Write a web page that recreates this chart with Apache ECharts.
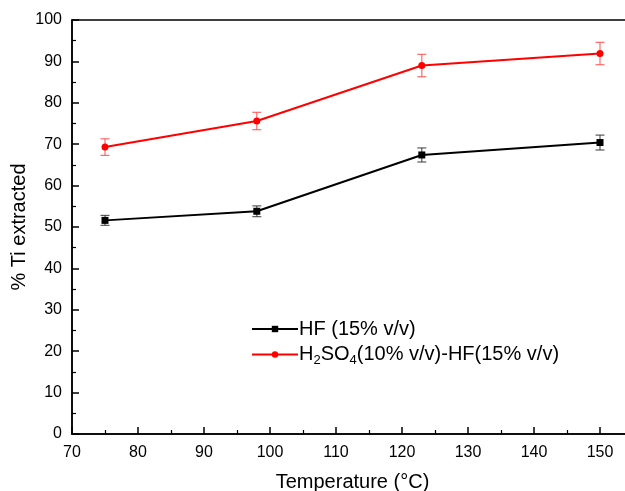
<!DOCTYPE html>
<html>
<head>
<meta charset="utf-8">
<script src="https://cdn.jsdelivr.net/npm/echarts@6/dist/echarts.min.js"></script>
<style>
html,body{margin:0;padding:0;background:#fff;}
#chart{width:625px;height:491px;}
</style>
</head>
<body>
<div id="chart"></div>
<script>
const temperatures = [75, 98, 123, 150];
const hfValues = [51.6, 53.8, 67.4, 70.4];
const hfErrors = [1.2, 1.3, 1.7, 1.8];
const mixValues = [69.3, 75.6, 89.0, 91.9];
const mixErrors = [2.0, 2.1, 2.7, 2.7];
const seriesNames = ['HF (15% v/v)', 'H2SO4(10% v/v)-HF(15% v/v)'];
const xTitle = 'Temperature (°C)';
const yTitle = '% Ti extracted';

const chart = echarts.init(document.getElementById('chart'), null, {renderer: 'canvas'});

function pairs(xs, ys) { return xs.map((x, i) => [x, ys[i]]); }
function errData(xs, ys, es) { return xs.map((x, i) => [x, ys[i] - es[i], ys[i] + es[i]]); }

function errorRender(color) {
  return function (params, api) {
    const x = api.value(0);
    const lo = api.coord([x, api.value(1)]);
    const hi = api.coord([x, api.value(2)]);
    const hw = 4.5;
    const style = {stroke: color, lineWidth: 1.2, fill: null};
    return {
      type: 'group',
      children: [
        {type: 'line', shape: {x1: lo[0], y1: lo[1], x2: hi[0], y2: hi[1]}, style: style},
        {type: 'line', shape: {x1: lo[0] - hw, y1: lo[1], x2: lo[0] + hw, y2: lo[1]}, style: style},
        {type: 'line', shape: {x1: hi[0] - hw, y1: hi[1], x2: hi[0] + hw, y2: hi[1]}, style: style}
      ]
    };
  };
}

const font = 'Liberation Sans, Arial, sans-serif';

chart.setOption({
  backgroundColor: '#fff',
  animation: false,
  grid: {left: 72, right: -8, top: 20, bottom: 57, containLabel: false, outerBoundsMode: 'none',
         show: true, borderColor: '#000', borderWidth: 1.5, backgroundColor: 'transparent'},
  legend: {
    left: 251, top: 319, orient: 'vertical',
    itemWidth: 46, itemHeight: 8, itemGap: 3, padding: 0,
    data: seriesNames,
    formatter: function (name) {
      if (name === seriesNames[1]) return 'H{sub|2}SO{sub|4}(10% v/v)-HF(15% v/v)';
      return name;
    },
    textStyle: {
      fontFamily: font, fontSize: 20, color: '#000', padding: [0, 0, 0, -4], lineHeight: 20,
      rich: {sub: {fontFamily: font, fontSize: 13, color: '#000', padding: [12, 0, 0, 0], lineHeight: 20}}
    }
  },
  xAxis: {
    type: 'value', min: 70, max: 155, interval: 10,
    name: xTitle, nameLocation: 'middle', nameGap: 38, nameMoveOverlap: false,
    nameTextStyle: {fontFamily: font, fontSize: 20, color: '#000'},
    axisLine: {lineStyle: {color: '#000', width: 1.5}},
    axisTick: {inside: true, length: 7, lineStyle: {color: '#000', width: 1.5}},
    minorTick: {show: true, splitNumber: 2, length: 4, lineStyle: {color: '#000', width: 1.2}},
    axisLabel: {fontFamily: font, fontSize: 16, color: '#000', margin: 11, showMaxLabel: false},
    splitLine: {show: false}
  },
  yAxis: {
    type: 'value', min: 0, max: 100, interval: 10,
    name: yTitle, nameLocation: 'middle', nameGap: 43, nameMoveOverlap: false,
    nameTextStyle: {fontFamily: font, fontSize: 20, color: '#000'},
    axisLine: {lineStyle: {color: '#000', width: 1.5}},
    axisTick: {inside: true, length: 7, lineStyle: {color: '#000', width: 1.5}},
    minorTick: {show: true, splitNumber: 2, length: 4, lineStyle: {color: '#000', width: 1.2}},
    axisLabel: {fontFamily: font, fontSize: 16, color: '#000', margin: 10},
    splitLine: {show: false}
  },
  series: [
    {
      type: 'custom', name: 'hf-err', silent: true, z: 1,
      renderItem: errorRender('rgba(60,60,60,0.85)'),
      data: errData(temperatures, hfValues, hfErrors)
    },
    {
      type: 'custom', name: 'mix-err', silent: true, z: 1,
      renderItem: errorRender('rgba(255,80,80,0.85)'),
      data: errData(temperatures, mixValues, mixErrors)
    },
    {
      type: 'line', name: seriesNames[0], z: 3,
      data: pairs(temperatures, hfValues),
      symbol: 'rect', symbolSize: 7, showAllSymbol: true,
      lineStyle: {color: '#000', width: 2},
      itemStyle: {color: '#000'}
    },
    {
      type: 'line', name: seriesNames[1], z: 3,
      data: pairs(temperatures, mixValues),
      symbol: 'circle', symbolSize: 7, showAllSymbol: true,
      lineStyle: {color: '#ff0000', width: 2},
      itemStyle: {color: '#ff0000'}
    }
  ]
});
</script>
</body>
</html>
